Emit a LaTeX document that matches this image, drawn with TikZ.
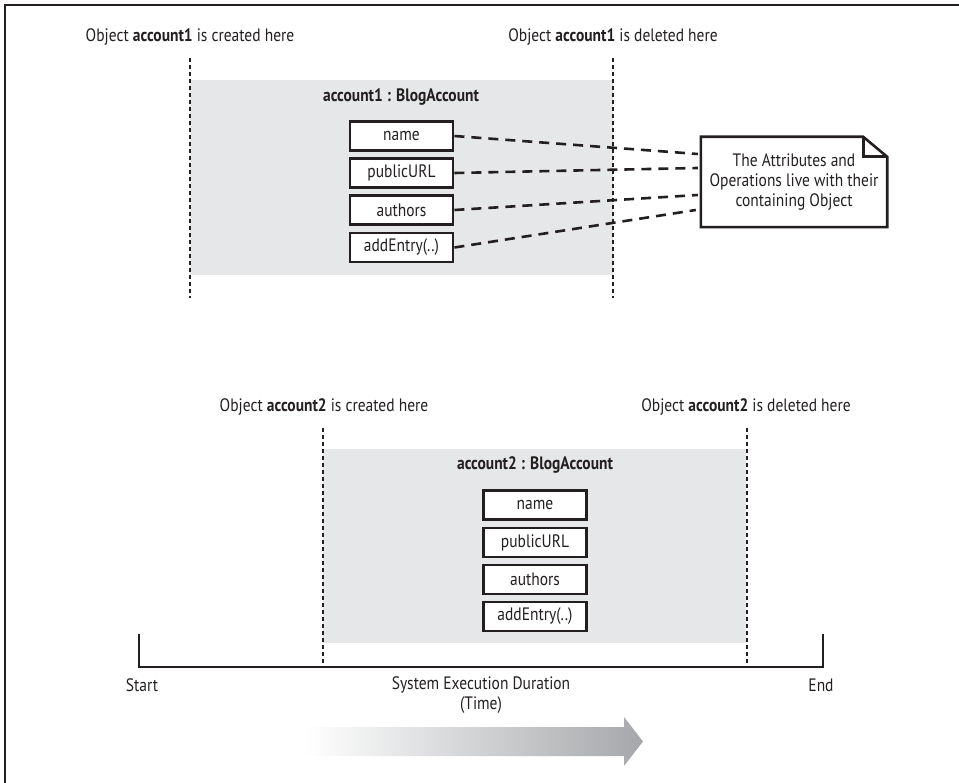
\documentclass[tikz,border=0pt]{standalone}
\usepackage{fontspec}
\setmainfont[FakeStretch=0.86]{PT Sans}
\usetikzlibrary{calc}
\definecolor{ink}{HTML}{231F20}
\definecolor{panelgray}{HTML}{E6E7E8}
\definecolor{arrowgray}{HTML}{A5A7AA}
\begin{document}
\begin{tikzpicture}[x=1pt,y=-1pt,
  font=\fontsize{18}{20}\selectfont, text=ink,
  panel/.style={fill=panelgray, draw=none, inner sep=0pt, anchor=north west},
  lifeline/.style={draw=ink, line width=2.6pt, dash pattern=on 4pt off 3pt},
  member/.style={draw=ink, fill=white, line width=2.9pt, minimum width=103pt, minimum height=29pt, inner sep=0pt},
  link/.style={draw=ink, line width=2.6pt, dash pattern=on 10pt off 7pt},
  caption/.style={inner sep=0pt, align=center},
  axis/.style={draw=ink, line width=2.8pt},
  notebox/.style={draw=ink, line width=2.6pt, line join=miter}
]
\useasboundingbox (0,0) rectangle (959,783);
% frame
\draw[ink, line width=2pt] (959,5) -- (5,5) -- (5,783);

% ---------- upper object ----------
\node[panel, minimum width=423pt, minimum height=195pt] (obj1) at (190,80) {};
\node[caption] (t1) at (190,37) {Object \textbf{account1} is created here};
\node[caption] (t2) at (613,37) {Object \textbf{account1} is deleted here};
\coordinate (c1a) at (190,58); \coordinate (c1b) at (190,298);
\coordinate (d1a) at (613,58); \coordinate (d1b) at (613,298);
\draw[lifeline] (c1a) -- (c1b);
\draw[lifeline] (d1a) -- (d1b);
\node[caption, font=\fontsize{18}{20}\selectfont\bfseries] (h1) at (401,97) {account1 : BlogAccount};
\node[member] (a1) at (401.5,136) {name};
\node[member] (a2) at (401.5,173) {publicURL};
\node[member] (a3) at (401.5,210) {authors};
\node[member] (a4) at (401.5,247.5) {addEntry(..)};

% note
\node[caption, minimum width=186pt, minimum height=90pt] (note) at (794,182)
  {The Attributes and\\Operations live with their\\containing Object};
\draw[notebox] (note.north west) -- ($(note.north east)+(-24,0)$) -- ($(note.north east)+(0,20)$)
  -- (note.south east) -- (note.south west) -- cycle;
\draw[notebox] ($(note.north east)+(-24,0)$) -- ($(note.north east)+(-24,20)$) -- ($(note.north east)+(0,20)$);
\coordinate (p1) at ($(note.west)+(-3,-28)$);
\coordinate (p2) at ($(note.west)+(-3,-14)$);
\coordinate (p3) at ($(note.west)+(-3,13)$);
\coordinate (p4) at ($(note.west)+(-5,28)$);
\draw[link] (a1.east) -- (p1);
\draw[link] (a2.east) -- (p2);
\draw[link] (a3.east) -- (p3);
\draw[link] (a4.east) -- (p4);

% ---------- lower object ----------
\node[panel, minimum width=423pt, minimum height=194pt] (obj2) at (323,449) {};
\node[caption] (t3) at (324,407) {Object \textbf{account2} is created here};
\node[caption] (t4) at (746,407) {Object \textbf{account2} is deleted here};
\coordinate (c2a) at (323,428); \coordinate (c2b) at (323,667);
\coordinate (d2a) at (747,428); \coordinate (d2b) at (747,667);
\node[caption, font=\fontsize{18}{20}\selectfont\bfseries] (h2) at (535,465) {account2 : BlogAccount};
\node[member] (b1) at (535,505) {name};
\node[member] (b2) at (535,542.5) {publicURL};
\node[member] (b3) at (535,579.5) {authors};
\node[member] (b4) at (535,616.5) {addEntry(..)};

% ---------- timeline ----------
\coordinate (s0) at (139,634); \coordinate (s1) at (139,667);
\coordinate (e1) at (823,667); \coordinate (e0) at (823,634);
\draw[axis] (s0) -- (s1) -- (e1) -- (e0);
\draw[lifeline] (c2a) -- (c2b);
\draw[lifeline] (d2a) -- (d2b);
\node[caption] (start) at (142,685) {Start};
\node[caption] (end) at (821,685) {End};
\node[caption] (dur) at (481,695) {System Execution Duration\\(Time)};

% time arrow
\shade[left color=white, right color=arrowgray]
  (305,727) -- (624,727) -- (624,717) -- (643,741.5) -- (624,766) -- (624,756) -- (305,756) -- cycle;
\end{tikzpicture}
\end{document}
